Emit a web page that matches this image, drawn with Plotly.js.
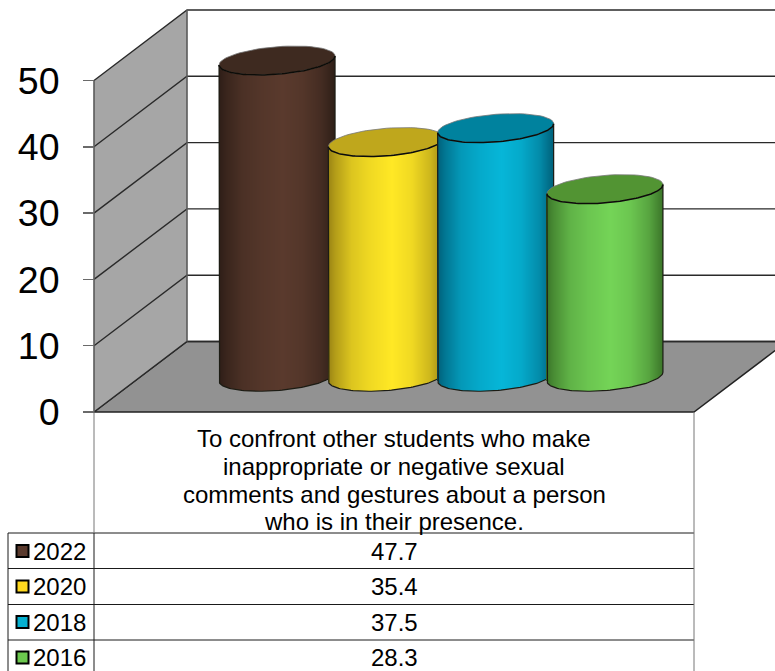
<!DOCTYPE html>
<html>
<head>
<meta charset="utf-8">
<script src="https://cdn.plot.ly/plotly-3.0.1.min.js"></script>
<style>html,body{margin:0;padding:0;background:#fff;overflow:hidden}#chart{width:775px;height:671px}</style>
</head>
<body>
<div id="chart"></div>
<script>
// ---- data ----
const years = ['2022', '2020', '2018', '2016'];
const values = [47.7, 35.4, 37.5, 28.3];
const categoryLines = [
  'To confront other students who make',
  'inappropriate or negative sexual',
  'comments and gestures about a person',
  'who is in their presence.'
];
const axisTicks = [0, 10, 20, 30, 40, 50];

// ---- styles ----
const edgeColors = ['#2e1e17', '#9a8414', '#00607a', '#3b7529'];
const faceColors = ['#5a3a2d', '#ffe825', '#06b6d8', '#74d457'];
const topColors = ['#3e2a20', '#bfa71c', '#00829e', '#529433'];
const keyColors = ['#5a3a2d', '#ffd91f', '#06b0d0', '#6cc84e'];
const FONT = 'Liberation Sans, Arial, sans-serif';

// ---- geometry of the oblique drawing, in page pixels ----
const W = 775, H = 671;
const pxPerUnit = 6.63, zeroY = 412;
const frontL = 94, frontR = 694, depthX = 93, depthY = 70.5;
const cylR = 58, cylTilt = 4.5, cylMinor = 13.8;
const toVal = py => (zeroY - py) / pxPerUnit;   // page y -> value scale
const depthV = depthY / pxPerUnit;
const yRange = [toVal(H), toVal(0)];
const midX = (frontL + frontR + depthX) / 2 + 0.5;
const spacing = 109.3;
const centers = values.map((_, i) => midX + (i - 1.5) * spacing);

function shade(a, b, f) {
  const p = c => [1, 3, 5].map(k => parseInt(c.substr(k, 2), 16));
  const A = p(a), B = p(b);
  return 'rgb(' + A.map((v, i) => Math.round(v + (B[i] - v) * f)).join(',') + ')';
}
const lightT = [0, 0.06, 0.2, 0.36, 0.55, 0.72, 0.88, 1];
const lightF = [0, 0.25, 0.65, 0.85, 1, 0.85, 0.5, 0];
function light(t) {
  for (let i = 1; i < lightT.length; i++) {
    if (t <= lightT[i]) {
      return lightF[i - 1] + (lightF[i] - lightF[i - 1]) * (t - lightT[i - 1]) / (lightT[i] - lightT[i - 1]);
    }
  }
  return 0;
}

const traces = [];
const wallOpts = {mode: 'lines', hoverinfo: 'skip', showlegend: false};

// floor
traces.push({...wallOpts, type: 'scatter', fill: 'toself', fillcolor: '#929292',
  x: [frontL, frontR, frontR + depthX, frontL + depthX, frontL],
  y: [0, 0, depthV, depthV, 0], line: {color: '#222', width: 1.5}});
// side wall
const maxTick = axisTicks[axisTicks.length - 1];
traces.push({...wallOpts, type: 'scatter', fill: 'toself', fillcolor: '#a6a6a6',
  x: [frontL, frontL + depthX, frontL + depthX, frontL, frontL],
  y: [0, depthV, maxTick + depthV, maxTick, 0], line: {color: 'rgba(0,0,0,0)', width: 0}});
// gridlines across side wall and back wall
const gx = [], gy = [];
axisTicks.forEach(v => {
  gx.push(frontL, frontL + depthX, W + 5, null);
  gy.push(v, v + depthV, v + depthV, null);
});
traces.push({...wallOpts, type: 'scatter', x: gx, y: gy, line: {color: '#2a2a2a', width: 1.4}});
// corner lines
traces.push({...wallOpts, type: 'scatter',
  x: [frontL, frontL, null, frontL + depthX, frontL + depthX],
  y: [0, maxTick, null, depthV, maxTick + depthV], line: {color: '#5a5a5a', width: 1.6}});
// table rules
const rowLines = [533, 568.5, 604.5, 640];
const tx = [], ty = [];
rowLines.forEach(p => { tx.push(8, frontR, null); ty.push(toVal(p), toVal(p), null); });
tx.push(8, 8, null, frontL, frontL, null);
ty.push(toVal(533), toVal(H + 3), null, toVal(533), toVal(H + 3), null);
traces.push({...wallOpts, type: 'scatter', x: tx, y: ty, line: {color: '#1a1a1a', width: 1}});
traces.push({...wallOpts, type: 'scatter',
  x: [frontL, frontL, null, frontR, frontR],
  y: [0, toVal(533), null, 0, toVal(H + 3)], line: {color: '#777', width: 1}});
// legend keys
const rowCenters = [551, 586.5, 622, 657.5];
traces.push({type: 'scatter', mode: 'markers', hoverinfo: 'skip', showlegend: false,
  x: years.map(() => 22.5), y: rowCenters.map(toVal),
  marker: {symbol: 'square', size: 12, color: keyColors, line: {color: '#000', width: 2}}});

// cylinders: each in its own overlaid subplot, so later ones cover earlier ones
const extraAxes = {};
values.forEach((val, i) => {
  const n = i + 2, xa = 'x' + n, ya = 'y' + n;
  extraAxes['xaxis' + n] = {overlaying: 'x', range: [0, W], visible: false, fixedrange: true};
  extraAxes['yaxis' + n] = {overlaying: 'y', range: yRange, visible: false, fixedrange: true};
  const cx = centers[i], base = depthV / 2, lvl = val + depthV / 2;
  const sx = [], sb = [], sh = [], sc = [];
  for (let p = Math.floor(cx - cylR) + 0.5; p < cx + cylR; p += 1) {
    const d = (p - cx) / cylR;
    const vb = base + (cylTilt * d - cylMinor * Math.sqrt(Math.max(0, 1 - d * d))) / pxPerUnit;
    const vt = lvl + cylTilt * d / pxPerUnit;
    sx.push(p); sb.push(vb); sh.push(vt - vb);
    sc.push(shade(edgeColors[i], faceColors[i], light((d + 1) / 2)));
  }
  traces.push({type: 'bar', xaxis: xa, yaxis: ya, x: sx, y: sh, base: sb, width: 1.02,
    marker: {color: sc, line: {width: 0}}, hoverinfo: 'skip', showlegend: false});

  const arc = (level, a0, a1) => {
    const xs = [], ys = [];
    for (let k = 0; k <= 72; k++) {
      const t = a0 + (a1 - a0) * k / 72;
      xs.push(cx + cylR * Math.cos(t));
      ys.push(level + (cylTilt * Math.cos(t) - cylMinor * Math.sin(t)) / pxPerUnit);
    }
    return [xs, ys];
  };
  // outline of sides and front bottom edge
  const bot = arc(base, Math.PI, 0);
  const ox = [cx - cylR].concat(bot[0], [cx + cylR]);
  const oy = [lvl - cylTilt / pxPerUnit].concat(bot[1], [lvl + cylTilt / pxPerUnit]);
  traces.push({...wallOpts, type: 'scatter', xaxis: xa, yaxis: ya, x: ox, y: oy,
    line: {color: '#1c1c14', width: 1.2}});
  // top face
  const full = arc(lvl, 0, 2 * Math.PI);
  traces.push({...wallOpts, type: 'scatter', xaxis: xa, yaxis: ya, x: full[0], y: full[1],
    fill: 'toself', fillcolor: topColors[i], line: {color: '#777', width: 0.8}});
  const front = arc(lvl, 0, Math.PI);
  traces.push({...wallOpts, type: 'scatter', xaxis: xa, yaxis: ya, x: front[0], y: front[1],
    line: {color: '#0c0c08', width: 1.5}});
});

// text of the data table
const tableMid = (frontL + frontR) / 2;
const lineCenters = [438.5, 466, 494, 521.5];
const annotations = categoryLines.map((t, i) => ({
  xref: 'x', yref: 'y', x: tableMid, y: toVal(lineCenters[i]), text: t,
  showarrow: false, font: {family: FONT, size: 24, color: '#000'}
}));
values.forEach((v, i) => {
  annotations.push({xref: 'x', yref: 'y', x: tableMid, y: toVal(rowCenters[i]), text: v.toFixed(1),
    showarrow: false, font: {family: FONT, size: 24, color: '#000'}});
  annotations.push({xref: 'x', yref: 'y', x: 33, xanchor: 'left', y: toVal(rowCenters[i]), text: years[i],
    showarrow: false, xshift: -2, font: {family: FONT, size: 24, color: '#000'}});
});

const layout = Object.assign({
  width: W, height: H, margin: {l: 0, r: 0, t: 0, b: 0},
  paper_bgcolor: '#fff', plot_bgcolor: '#fff', showlegend: false,
  barmode: 'overlay', bargap: 0,
  xaxis: {domain: [0, 1], range: [0, W], visible: false, fixedrange: true},
  yaxis: {
    domain: [0, 1], range: yRange, anchor: 'free', position: frontL / W,
    tickmode: 'array', tickvals: axisTicks, ticktext: axisTicks.map(String),
    ticks: 'outside', ticklen: 11, tickwidth: 1.5, tickcolor: '#6a6a6a',
    ticklabelstandoff: 16,
    showgrid: false, zeroline: false, showline: false, fixedrange: true,
    tickfont: {family: FONT, size: 37.5, color: '#000'}
  },
  annotations: annotations
}, extraAxes);

Plotly.newPlot('chart', traces, layout, {displayModeBar: false, staticPlot: true});
</script>
</body>
</html>
